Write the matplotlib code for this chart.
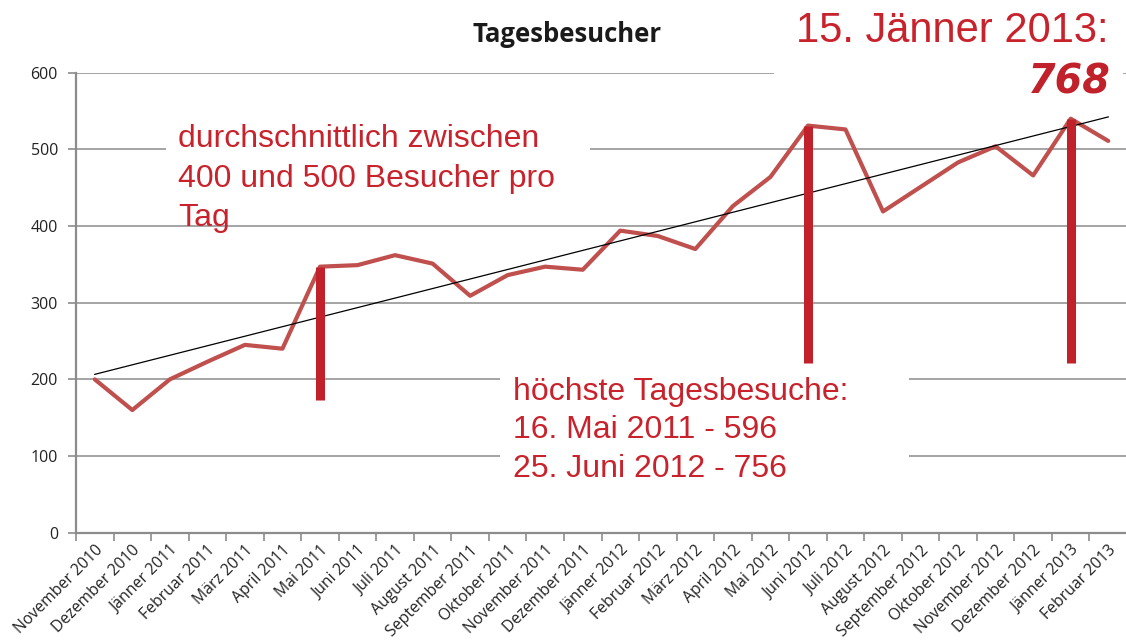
import numpy as np
import matplotlib
matplotlib.use("Agg")
import matplotlib.pyplot as plt
from matplotlib.patches import Rectangle

# monthly data
months = ["November 2010", "Dezember 2010", "Jänner 2011", "Februar 2011",
          "März 2011", "April 2011", "Mai 2011", "Juni 2011", "Juli 2011",
          "August 2011", "September 2011", "Oktober 2011", "November 2011",
          "Dezember 2011", "Jänner 2012", "Februar 2012", "März 2012",
          "April 2012", "Mai 2012", "Juni 2012", "Juli 2012", "August 2012",
          "September 2012", "Oktober 2012", "November 2012", "Dezember 2012",
          "Jänner 2013", "Februar 2013"]
visitors = [200, 160, 200, 223, 245, 240, 347, 349, 362, 351, 309, 336, 347,
            343, 394, 387, 370, 426, 464, 531, 526, 419, 451, 483, 504, 466,
            540, 511]
y_ticks = [0, 100, 200, 300, 400, 500, 600]

# highlighted months (peak markers) and where their bars end
peak_months = ["Mai 2011", "Juni 2012", "Jänner 2013"]
peak_bottoms = [173, 222, 222]

W, H = 1126, 641
RED_TEXT = "#c8232c"
RED_BAR = "#c0212a"
LINE_RED = "#c0504d"
GRID = "#8c8c8c"


def px(x, y):
    # pixel position -> figure fraction
    return x / W, 1 - y / H


fig = plt.figure(figsize=(W / 100, H / 100), dpi=100)
ax = fig.add_axes([76 / W, 1 - 532.7 / H, 1051 / W, 460 / H])

x = np.arange(len(months))
ax.set_xlim(-0.5, len(months) - 0.5)
ax.set_ylim(0, 600)

# grid + axes styling
ax.set_yticks(y_ticks)
ax.yaxis.grid(True, color=GRID, lw=1.1)
ax.set_axisbelow(True)
for s in ["top", "right"]:
    ax.spines[s].set_visible(False)
for s in ["left", "bottom"]:
    ax.spines[s].set_color(GRID)
    ax.spines[s].set_linewidth(1.6)

ax.set_xticks(x)
ax.set_xticklabels(months, rotation=45, ha="right", va="top",
                   rotation_mode="anchor", fontsize=11.3, family="Open Sans",
                   color="#222222")
ax.tick_params(axis="x", which="major", length=0, pad=7)
ax.set_xticks(np.arange(-0.5, len(months)), minor=True)
ax.tick_params(axis="x", which="minor", length=6, width=1.2, color=GRID)
ax.tick_params(axis="y", length=6, width=1.2, color=GRID, pad=7,
               labelsize=11.5, labelcolor="#222222")
for lab in ax.get_yticklabels():
    lab.set_family("Open Sans")

# data line
ax.plot(x, visitors, color=LINE_RED, lw=3.0, solid_joinstyle="round",
        solid_capstyle="round", zorder=3)

# linear trend
k, d = np.polyfit(x, visitors, 1)
ax.plot([x[0], x[-1]], [k * x[0] + d, k * x[-1] + d], color="black",
        lw=0.9, zorder=4)

# peak bars
idx = [months.index(m) for m in peak_months]
ax.vlines(idx, peak_bottoms, [visitors[i] for i in idx], color=RED_BAR,
          lw=6.5, zorder=5)

# white boxes behind the annotations (hide the grid lines)
for (x0, x1, y0, y1) in [(1.9, 13.2, 414, 552), (18.1, 27.4, 565, 650),
                         (10.8, 21.7, 49, 219)]:
    ax.add_patch(Rectangle((x0, y0), x1 - x0, y1 - y0, facecolor="white",
                           edgecolor="none", zorder=2, clip_on=False))

# title
fig.text(*px(567, 42), "Tagesbesucher", ha="center", va="baseline",
         fontsize=18.5, fontweight="bold", family="Open Sans", color="#1a1a1a")

# annotations
note1 = ["durchschnittlich zwischen", "400 und 500 Besucher pro", "Tag"]
for i, line in enumerate(note1):
    fig.text(*px(178, 147 + i * 39.5), line, ha="left", va="baseline",
             fontsize=23, family="Liberation Sans", color=RED_TEXT)

note2 = ["höchste Tagesbesuche:", "16. Mai 2011 - 596", "25. Juni 2012 - 756"]
for i, line in enumerate(note2):
    fig.text(*px(513, 400 + i * 38.5), line, ha="left", va="baseline",
             fontsize=23, family="Liberation Sans", color=RED_TEXT)

fig.text(*px(1108, 42), "15. Jänner 2013:", ha="right", va="baseline",
         fontsize=30, family="Liberation Sans", color=RED_TEXT)
fig.text(*px(1111, 93), "768", ha="right", va="baseline", fontsize=28.5,
         family="DejaVu Sans", fontweight="bold", style="italic",
         color=RED_BAR)

fig.savefig("out.png", dpi=100)
